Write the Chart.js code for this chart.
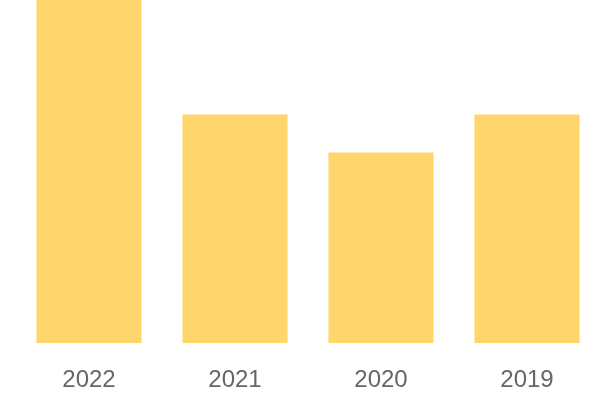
<!DOCTYPE html>
<html><head><meta charset="utf-8">
<script src="https://cdn.jsdelivr.net/npm/chart.js@4/dist/chart.umd.min.js"></script>
<style>html,body{margin:0;padding:0;background:#fff}#wrap{width:600px;height:400px}</style>
</head><body><div id="wrap"><canvas id="c" width="600" height="400"></canvas></div>
<script>
const categories = ["2022", "2021", "2020", "2019"];
const values = [9, 6, 5, 6];
const yMax = 9;

new Chart(document.getElementById('c'), {
  type: 'bar',
  data: { labels: categories, datasets: [{ data: values, backgroundColor: '#FED66B', borderWidth: 0, barPercentage: 0.72, categoryPercentage: 1 }] },
  options: {
    responsive: false, animation: false,
    layout: { padding: { left: 16, right: 0, top: 0, bottom: -18 } },
    plugins: { legend: { display: false }, tooltip: { enabled: false } },
    scales: {
      x: { grid: { display: false, drawTicks: false }, border: { display: false },
           ticks: { color: '#666', font: { family: 'Liberation Sans', size: 24 }, padding: 23 } },
      y: { display: false, min: 0, max: yMax }
    }
  }
});
</script></body></html>
